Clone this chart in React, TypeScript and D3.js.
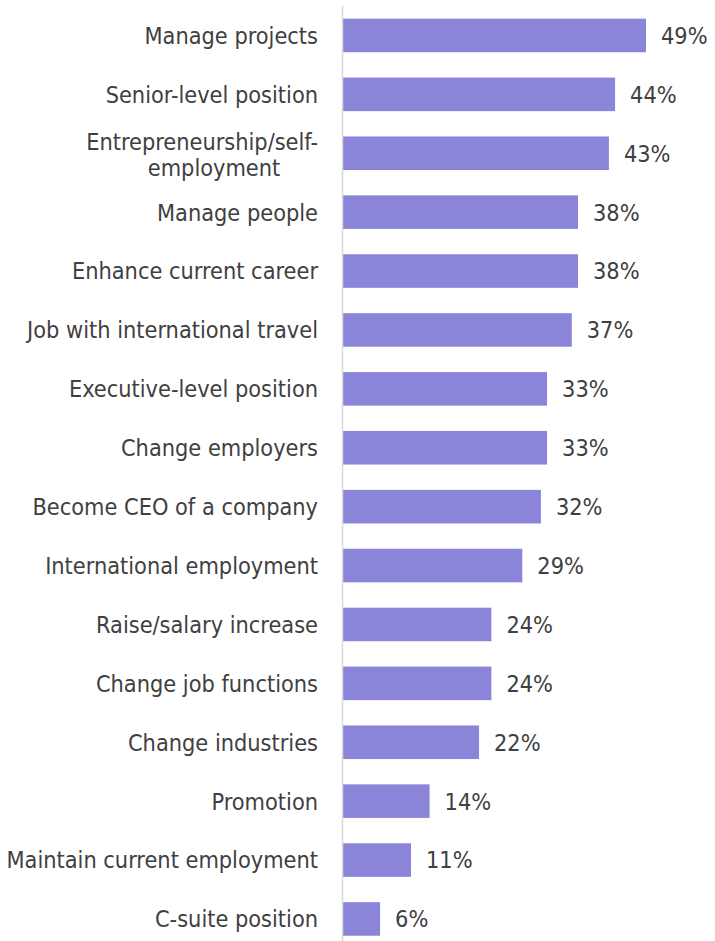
import React from "react";
import * as d3 from "d3";

const categories: string[][] = [
  ["Manage projects"],
  ["Senior-level position"],
  ["Entrepreneurship/self-", "employment"],
  ["Manage people"],
  ["Enhance current career"],
  ["Job with international travel"],
  ["Executive-level position"],
  ["Change employers"],
  ["Become CEO of a company"],
  ["International employment"],
  ["Raise/salary increase"],
  ["Change job functions"],
  ["Change industries"],
  ["Promotion"],
  ["Maintain current employment"],
  ["C-suite position"],
];
const values: number[] = [49, 44, 43, 38, 38, 37, 33, 33, 32, 29, 24, 24, 22, 14, 11, 6];

const W = 715;
const H = 941;
const axisX = 342.5;
const FONT = "'DejaVu Sans Condensed', 'DejaVu Sans', sans-serif";

export default function App() {
  const idx = values.map((_, i) => String(i));
  const y = d3.scaleBand<string>().domain(idx).range([6, 6 + 16 * 58.9]).paddingInner(0.43).paddingOuter(0.215);
  const x = d3.scaleLinear().domain([0, 49]).range([343, 646]);
  const fs = 23.3;
  return (
    <svg width={W} height={H} style={{ position: "absolute", left: 0, top: 0, background: "#fff" }}>
      {values.map((v, i) => {
        const yy = y(String(i))!;
        const cy = yy + y.bandwidth() / 2;
        const lines = categories[i];
        return (
          <g key={i}>
            <rect x={x(0)} y={yy} width={x(v) - x(0)} height={y.bandwidth()} fill="#8b85d9" />
            <text
              x={x(v) + 15}
              y={cy}
              dy="0.36em"
              fontFamily={FONT}
              fontSize={fs}
              fill="#404040"
            >
              {v}%
            </text>
            {lines.length === 1 ? (
              <text x={318} y={cy} dy="0.36em" textAnchor="end" fontFamily={FONT} fontSize={fs} fill="#404040">
                {lines[0]}
              </text>
            ) : (
              <g>
                <text x={318} y={cy - 12} dy="0.36em" textAnchor="end" fontFamily={FONT} fontSize={fs} fill="#404040">
                  {lines[0]}
                </text>
                <text x={214} y={cy + 14} dy="0.36em" textAnchor="middle" fontFamily={FONT} fontSize={fs} fill="#404040">
                  {lines[1]}
                </text>
              </g>
            )}
          </g>
        );
      })}
      <line x1={axisX} x2={axisX} y1={6} y2={H} stroke="#d9d9d9" strokeWidth={1.5} />
    </svg>
  );
}
